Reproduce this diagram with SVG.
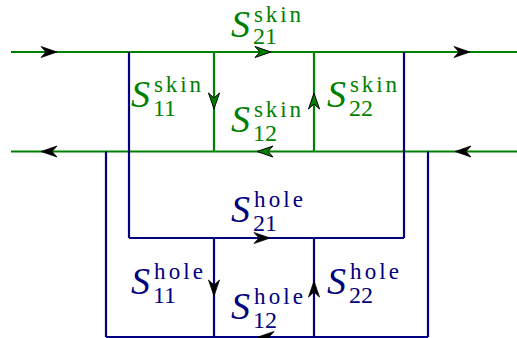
<svg xmlns="http://www.w3.org/2000/svg" xmlns:xlink="http://www.w3.org/1999/xlink" width="517" height="338" viewBox="0 0 517 338">
<style>
.g{stroke:#008000;stroke-width:2.2;fill:none}
.b{stroke:#000080;stroke-width:2.2;fill:none}
.ak{fill:#000;stroke:#000;stroke-width:0.8;stroke-linejoin:miter}
.ag{fill:#008000;stroke:#000;stroke-width:1;stroke-linejoin:miter}
.lbl{font-family:"Liberation Serif","Times New Roman",serif}
.S{font-style:italic;font-size:38px}
.sup{font-size:23px}
.sub{font-size:24px}
.tg{fill:#008000}
.tb{fill:#000080}
</style>
<defs>
<path id="ah" d="M0,0 L-16,-5.5 L-11,0 L-16,5.5 Z"/>
</defs>
<g id="connectors">
<g id="skin-lines">
<line class="g" x1="11" y1="52" x2="517" y2="52"/>
<line class="g" x1="11" y1="151.5" x2="517" y2="151.5"/>
<line class="g" x1="214" y1="52" x2="214" y2="151.5"/>
<line class="g" x1="314" y1="52" x2="314" y2="151.5"/>
</g>
<g id="hole-lines">
<line class="b" x1="129" y1="52" x2="129" y2="238"/>
<line class="b" x1="404" y1="52" x2="404" y2="238"/>
<line class="b" x1="129" y1="238" x2="404" y2="238"/>
<line class="b" x1="106" y1="151.5" x2="106" y2="337"/>
<line class="b" x1="428" y1="151.5" x2="428" y2="337"/>
<line class="b" x1="106" y1="337" x2="428" y2="337"/>
<line class="b" x1="214" y1="238" x2="214" y2="337"/>
<line class="b" x1="314" y1="238" x2="314" y2="337"/>
</g>
<g id="arrowheads">
<use xlink:href="#ah" class="ak" transform="translate(57,52)"/>
<use xlink:href="#ah" class="ag" transform="translate(271,52)"/>
<use xlink:href="#ah" class="ak" transform="translate(470,52)"/>
<use xlink:href="#ah" class="ak" transform="translate(41,151.5) rotate(180)"/>
<use xlink:href="#ah" class="ag" transform="translate(257,151.5) rotate(180)"/>
<use xlink:href="#ah" class="ak" transform="translate(455,151.5) rotate(180)"/>
<use xlink:href="#ah" class="ag" transform="translate(214,109) rotate(90)"/>
<use xlink:href="#ah" class="ag" transform="translate(314,93) rotate(-90)"/>
<use xlink:href="#ah" class="ak" transform="translate(270,238)"/>
<use xlink:href="#ah" class="ak" transform="translate(214,296) rotate(90)"/>
<use xlink:href="#ah" class="ak" transform="translate(314,281) rotate(-90)"/>
<use xlink:href="#ah" class="ak" transform="translate(258,337) rotate(180)"/>
</g>
</g>
<g id="S21-skin" class="lbl tg"><text><tspan class="S" x="231" y="36.5">S</tspan><tspan class="sup" x="254" y="21.5" textLength="47">skin</tspan><tspan class="sub" x="253" y="44">21</tspan></text></g>
<g id="S11-skin" class="lbl tg"><text><tspan class="S" x="131" y="107">S</tspan><tspan class="sup" x="154" y="92" textLength="47">skin</tspan><tspan class="sub" x="153" y="115.5">11</tspan></text></g>
<g id="S12-skin" class="lbl tg"><text><tspan class="S" x="231" y="132">S</tspan><tspan class="sup" x="254" y="117" textLength="47">skin</tspan><tspan class="sub" x="253" y="140.5">12</tspan></text></g>
<g id="S22-skin" class="lbl tg"><text><tspan class="S" x="327" y="107">S</tspan><tspan class="sup" x="350" y="92" textLength="47">skin</tspan><tspan class="sub" x="349" y="115.5">22</tspan></text></g>
<g id="S21-hole" class="lbl tb"><text><tspan class="S" x="231" y="222">S</tspan><tspan class="sup" x="254" y="207" textLength="49">hole</tspan><tspan class="sub" x="253" y="230.5">21</tspan></text></g>
<g id="S11-hole" class="lbl tb"><text><tspan class="S" x="131" y="294">S</tspan><tspan class="sup" x="154" y="279" textLength="49">hole</tspan><tspan class="sub" x="153" y="302.5">11</tspan></text></g>
<g id="S12-hole" class="lbl tb"><text><tspan class="S" x="231" y="319">S</tspan><tspan class="sup" x="254" y="304" textLength="49">hole</tspan><tspan class="sub" x="253" y="327.5">12</tspan></text></g>
<g id="S22-hole" class="lbl tb"><text><tspan class="S" x="327" y="294">S</tspan><tspan class="sup" x="350" y="279" textLength="49">hole</tspan><tspan class="sub" x="349" y="302.5">22</tspan></text></g>
</svg>
